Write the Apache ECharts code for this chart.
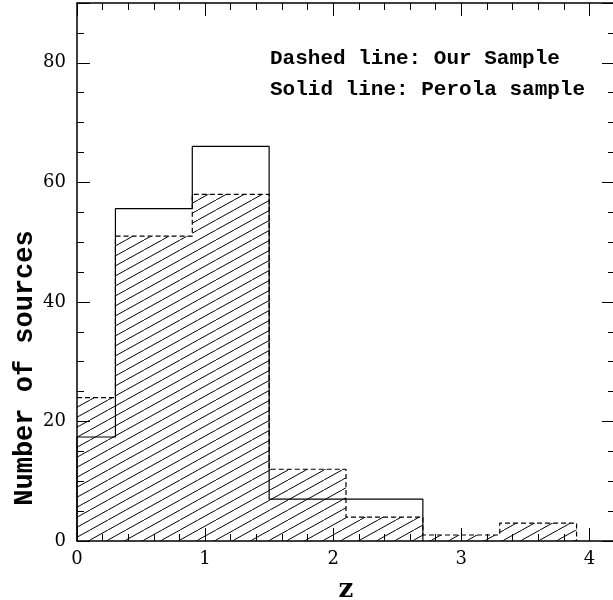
<!DOCTYPE html>
<html>
<head>
<meta charset="utf-8">
<script src="https://cdn.jsdelivr.net/npm/echarts@6/dist/echarts.min.js"></script>
<style>
html, body { margin: 0; padding: 0; background: #fff; }
#chart { width: 613px; height: 600px; }
</style>
</head>
<body>
<div id="chart"></div>
<script>
// bin edges in z, and counts per bin
var binEdges = [0, 0.3, 0.9, 1.5, 2.1, 2.7, 3.3, 3.9];
var ourSample = [24, 51, 58, 12, 4, 1, 3];          // dashed, hatched
var perolaSample = [17.4, 55.6, 66, 7, 7];          // solid
var yTicks = [0, 20, 40, 60, 80];
var xTicks = [0, 1, 2, 3, 4];
var noteLines = ['Dashed line: Our Sample', 'Solid line: Perola sample'];
var yTitle = 'Number of sources';

// hatch pattern tile
function makeHatch() {
	var w = 18, h = 10;
	var c = document.createElement('canvas');
	c.width = w; c.height = h;
	var ctx = c.getContext('2d');
	ctx.strokeStyle = '#000';
	ctx.lineWidth = 1;
	for (var k = -1; k <= 1; k++) {
		ctx.beginPath();
		ctx.moveTo(k * w, h);
		ctx.lineTo((k + 1) * w, 0);
		ctx.stroke();
	}
	return c;
}
var hatch = { image: makeHatch(), repeat: 'repeat' };

// histogram outline as step points
function stepPoints(vals, startAtZero) {
	var pts = [];
	if (startAtZero) pts.push([binEdges[0], 0]);
	for (var i = 0; i < vals.length; i++) {
		pts.push([binEdges[i], vals[i]]);
		pts.push([binEdges[i + 1], vals[i]]);
	}
	pts.push([binEdges[vals.length], 0]);
	return pts;
}

var binData = [];
for (var i = 0; i < ourSample.length; i++) {
	binData.push([binEdges[i], binEdges[i + 1], ourSample[i]]);
}

var myChart = echarts.init(document.getElementById('chart'));
var labelFont = 'DejaVu Serif';
var axisBase = {
	type: 'value',
	axisLine: { show: true, onZero: false, lineStyle: { color: '#000', width: 1.5 } },
	axisTick: { show: true, inside: true, length: 13, lineStyle: { color: '#000', width: 1 } },
	minorTick: { show: true, length: 7, lineStyle: { color: '#000', width: 1 } },
	splitLine: { show: false },
	minorSplitLine: { show: false }
};

var option = {
	backgroundColor: '#ffffff',
	animation: false,
	grid: { left: 77, right: -2, top: 3, bottom: 59, outerBoundsMode: 'none', containLabel: false },
	graphic: [{
		type: 'text',
		left: 270,
		top: 43,
		style: {
			text: noteLines.join('\n'),
			font: 'bold 21px "Liberation Mono"',
			lineHeight: 31,
			fill: '#000'
		}
	}, {
		type: 'text',
		x: 25,
		y: 368,
		rotation: Math.PI / 2,
		style: {
			text: yTitle,
			font: 'bold 27px "Liberation Mono"',
			align: 'center',
			verticalAlign: 'middle',
			fill: '#000'
		}
	}],
	xAxis: [
		echarts.util.merge({
			min: 0, max: 4.2, interval: 1,
			minorTick: { splitNumber: 5 },
			name: 'z',
			nameLocation: 'middle',
			nameGap: 36,
			nameTextStyle: { fontFamily: labelFont, fontWeight: 'bold', fontSize: 26, color: '#000' },
			axisLabel: {
				margin: 9, color: '#000', fontFamily: labelFont, fontSize: 18, showMaxLabel: false,
				formatter: function (v) { return xTicks.indexOf(v) >= 0 ? String(v) : ''; }
			}
		}, axisBase, true),
		echarts.util.merge({
			position: 'top', min: 0, max: 4.2, interval: 1,
			minorTick: { splitNumber: 5 },
			axisLabel: { show: false }
		}, axisBase, true)
	],
	yAxis: [
		echarts.util.merge({
			min: 0, max: 90, interval: 20,
			minorTick: { splitNumber: 4 },
			axisLabel: {
				margin: 11, color: '#000', fontFamily: labelFont, fontSize: 18, showMaxLabel: false,
				formatter: function (v) { return yTicks.indexOf(v) >= 0 ? String(v) : ''; }
			}
		}, axisBase, true),
		echarts.util.merge({
			position: 'right', min: 0, max: 90, interval: 20,
			minorTick: { splitNumber: 4 },
			axisLabel: { show: false }
		}, axisBase, true)
	],
	series: [
		{
			type: 'custom',
			name: 'hatch',
			z: 1,
			data: binData,
			encode: { x: [0, 1], y: 2 },
			renderItem: function (params, api) {
				var p0 = api.coord([api.value(0), api.value(2)]);
				var p1 = api.coord([api.value(1), 0]);
				return {
					type: 'rect',
					shape: { x: p0[0], y: p0[1], width: p1[0] - p0[0], height: p1[1] - p0[1] },
					style: { fill: hatch, stroke: null }
				};
			}
		},
		{
			type: 'line',
			name: 'Perola sample',
			z: 3,
			symbol: 'none',
			data: stepPoints(perolaSample, true),
			lineStyle: { color: '#000', width: 1.2, type: 'solid' }
		},
		{
			type: 'line',
			name: 'Our Sample',
			z: 4,
			symbol: 'none',
			data: stepPoints(ourSample, false),
			lineStyle: { color: '#000', width: 1.2, type: [5, 3] }
		}
	]
};
myChart.setOption(option);
</script>
</body>
</html>
